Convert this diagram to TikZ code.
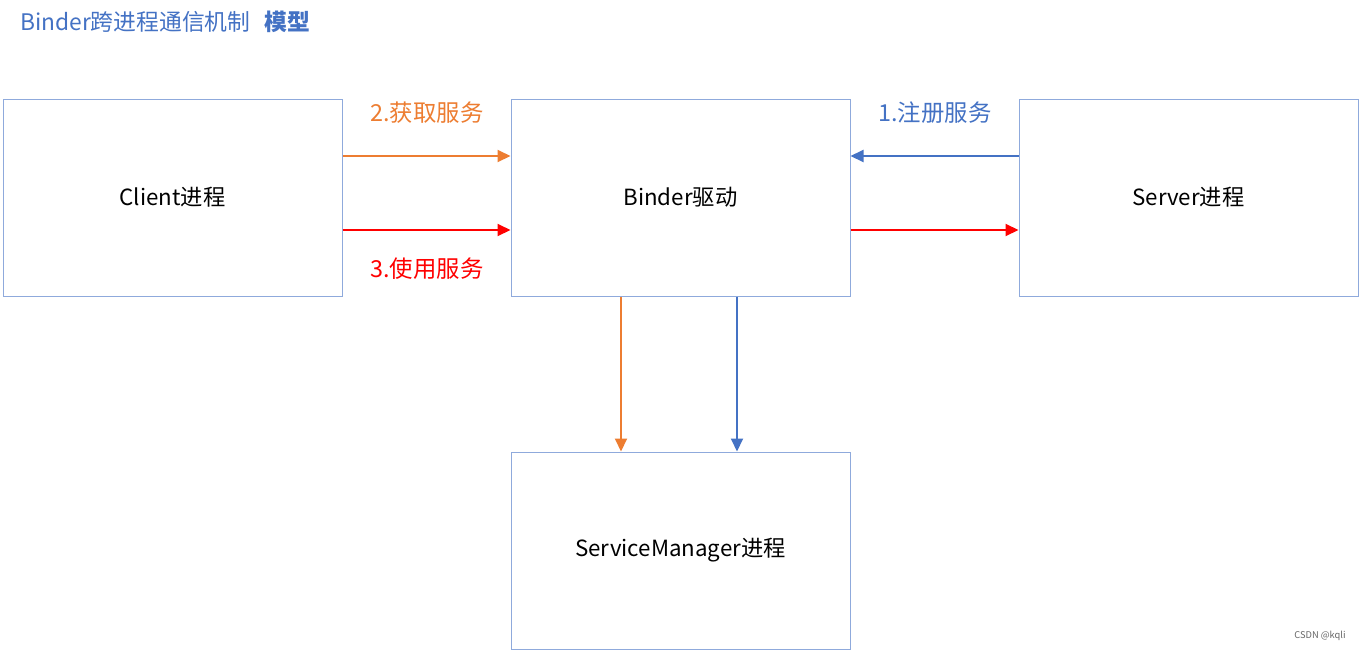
\documentclass[tikz,border=0pt]{standalone}
\usepackage{fontspec}
\setmainfont{Noto Sans CJK SC}
\usetikzlibrary{arrows.meta}
\definecolor{cblue}{HTML}{4472C4}
\definecolor{corange}{HTML}{ED7D31}
\definecolor{cred}{HTML}{FF0000}
\definecolor{cboxline}{HTML}{8FAADC}
\tikzset{
  procbox/.style={draw=cboxline, line width=1pt, fill=white, minimum width=339pt, minimum height=197pt, inner sep=0pt, font=\fontsize{22.3}{26}\selectfont},
  conn/.style={line width=2pt, -{Triangle[length=13pt,width=12pt]}},
  lbl/.style={inner sep=0pt, font=\fontsize{23.4}{27}\selectfont}
}
\begin{document}
\begin{tikzpicture}[x=1pt,y=-1pt]
\useasboundingbox[fill=white] (0,0) rectangle (1361,651);
\node[anchor=west, inner sep=0pt, text=cblue, font=\fontsize{22.8}{27}\selectfont] (title) at (20,22) {Binder跨进程通信机制\hspace{0.6em}{\bfseries 模型}};
\node[procbox] (client) at (172.5,197.5) {Client进程};
\node[procbox] (binder) at (680.5,197.5) {Binder驱动};
\node[procbox] (server) at (1188.5,197.5) {Server进程};
\node[procbox] (sm) at (680.5,550.5) {ServiceManager进程};
\draw[conn, corange] (client.east |- 0,156) -- (binder.west |- 0,156);
\draw[conn, cred] (client.east |- 0,230) -- (binder.west |- 0,230);
\draw[conn, cblue] (server.west |- 0,156) -- (binder.east |- 0,156);
\draw[conn, cred] (binder.east |- 0,230) -- (server.west |- 0,230);
\draw[conn, corange] (binder.south -| 621,0) -- (sm.north -| 621,0);
\draw[conn, cblue] (binder.south -| 737,0) -- (sm.north -| 737,0);
\node[lbl, text=corange] (l2) at (427,113) {2.获取服务};
\node[lbl, text=cred] (l3) at (427,269) {3.使用服务};
\node[lbl, text=cblue] (l1) at (935,113) {1.注册服务};
\node[inner sep=0pt, text=black!60, font=\fontsize{9.3}{11}\selectfont] (wm) at (1320,636) {CSDN @kqli};
\end{tikzpicture}
\end{document}
